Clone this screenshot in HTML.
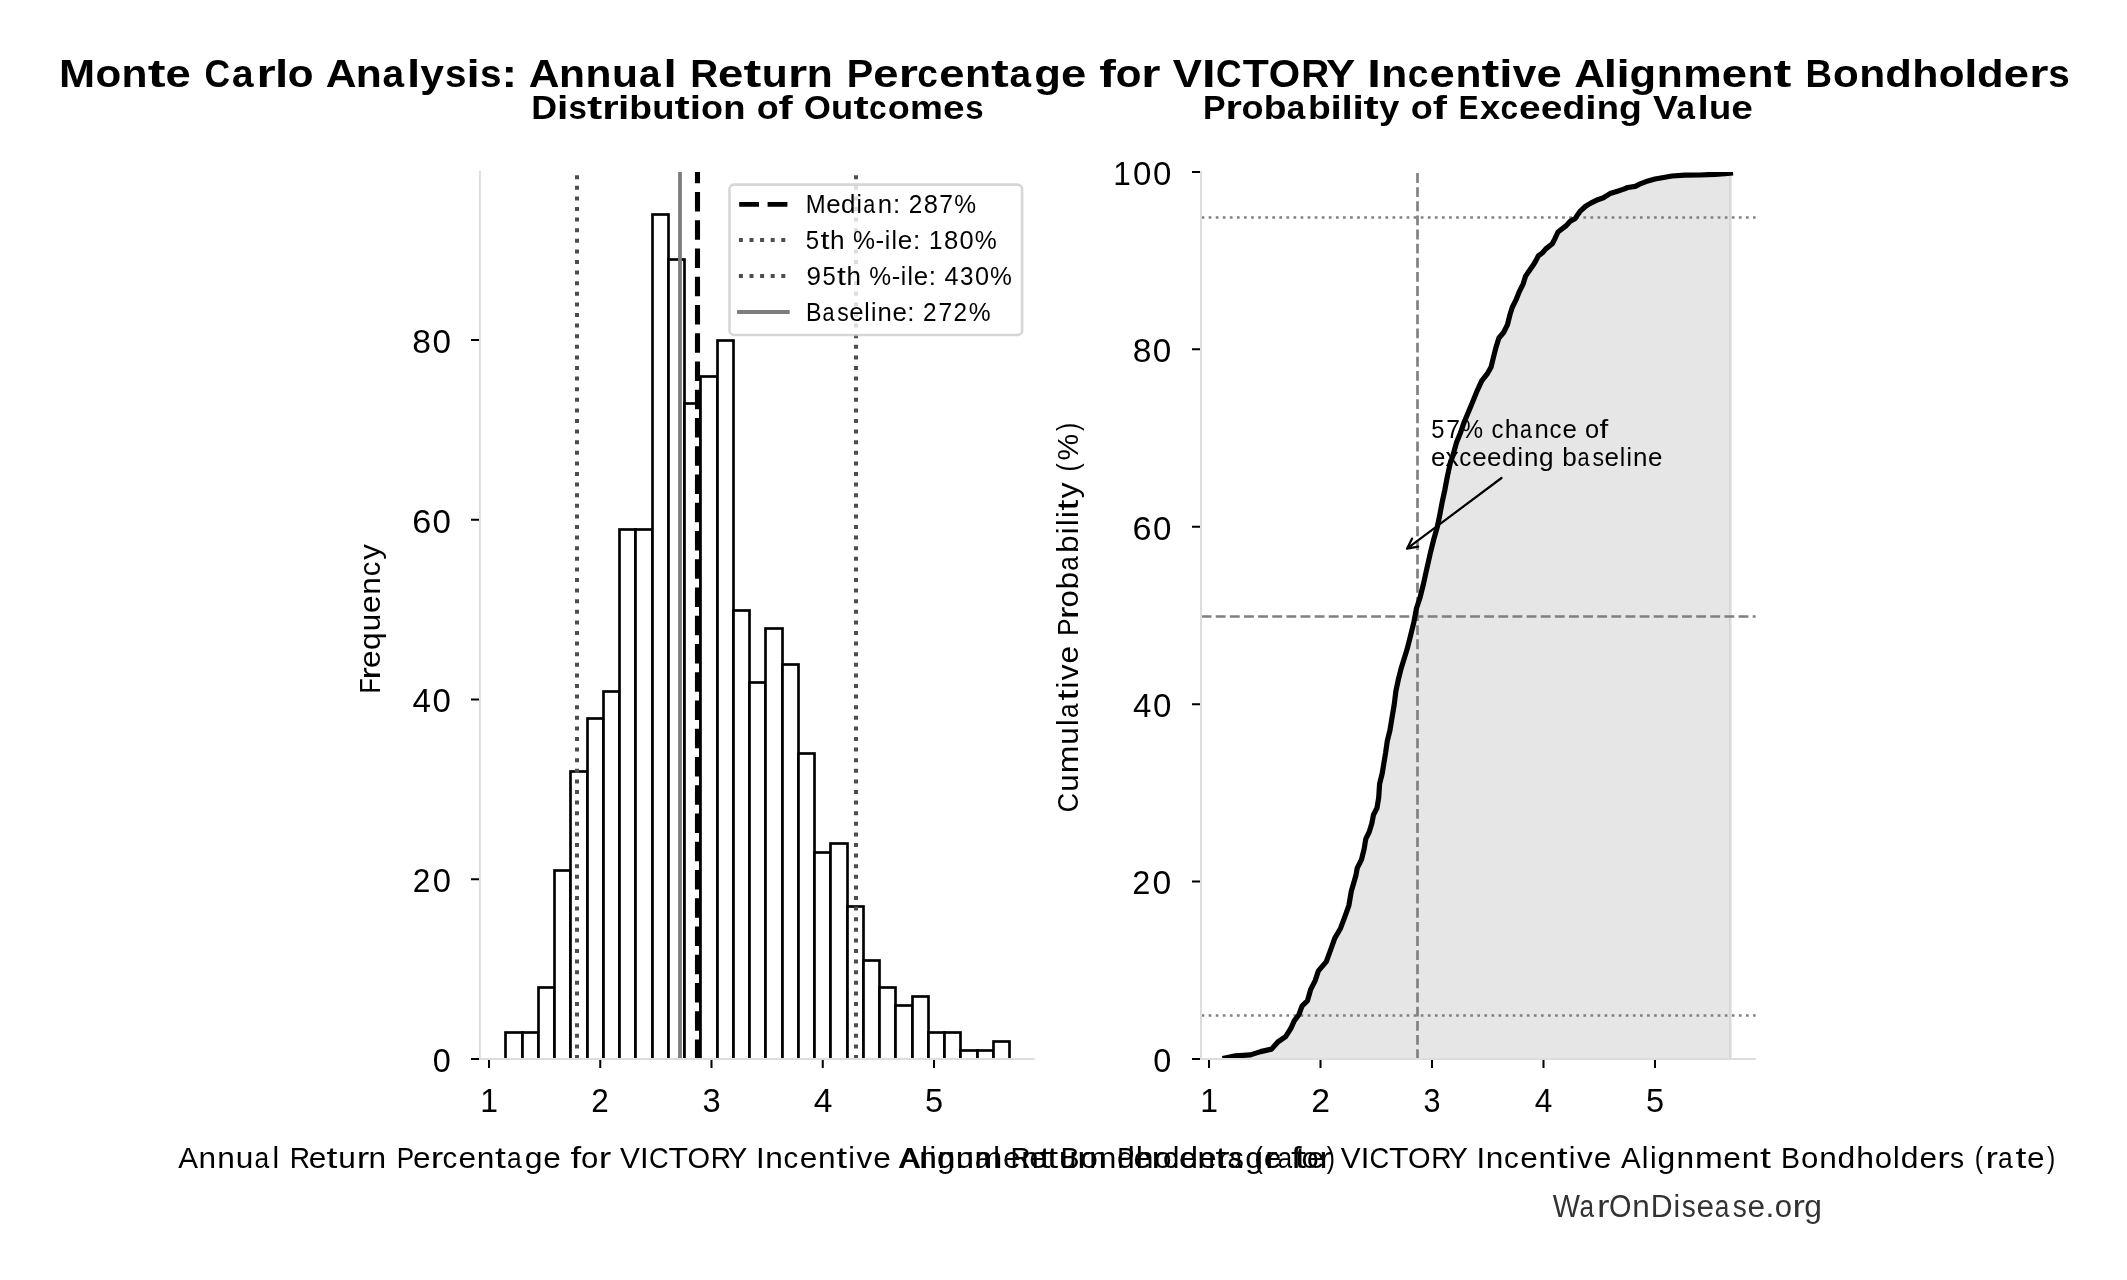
<!DOCTYPE html><html><head><meta charset="utf-8"><title>Monte Carlo Analysis</title><style>html,body{margin:0;padding:0;background:#fff;overflow:hidden}svg{display:block}</style></head><body>
<svg width="2127" height="1280" viewBox="0 0 2127 1280" style="font-family:'Liberation Sans', sans-serif;will-change:transform">
<rect width="2127" height="1280" fill="#fff"/>
<defs><clipPath id="cl"><rect x="479.90" y="171.90" width="554.90" height="887.10"/></clipPath><clipPath id="cr"><rect x="1201.00" y="171.90" width="554.80" height="887.10"/></clipPath></defs>
<g clip-path="url(#cl)">
<g fill="#fff" stroke="#000" stroke-width="2.67"><rect x="505.50" y="1032.50" width="17.00" height="29.50"/><rect x="522.50" y="1032.50" width="16.00" height="29.50"/><rect x="538.50" y="987.50" width="16.00" height="74.50"/><rect x="554.50" y="870.50" width="16.00" height="191.50"/><rect x="570.50" y="771.50" width="17.00" height="290.50"/><rect x="587.50" y="718.50" width="16.00" height="343.50"/><rect x="603.50" y="691.50" width="16.00" height="370.50"/><rect x="619.50" y="529.50" width="16.00" height="532.50"/><rect x="635.50" y="529.50" width="17.00" height="532.50"/><rect x="652.50" y="214.50" width="16.00" height="847.50"/><rect x="668.50" y="259.50" width="16.00" height="802.50"/><rect x="684.50" y="403.50" width="16.00" height="658.50"/><rect x="700.50" y="376.50" width="17.00" height="685.50"/><rect x="717.50" y="340.50" width="16.00" height="721.50"/><rect x="733.50" y="610.50" width="16.00" height="451.50"/><rect x="749.50" y="682.50" width="16.00" height="379.50"/><rect x="765.50" y="628.50" width="17.00" height="433.50"/><rect x="782.50" y="664.50" width="16.00" height="397.50"/><rect x="798.50" y="753.50" width="16.00" height="308.50"/><rect x="814.50" y="852.50" width="16.00" height="209.50"/><rect x="830.50" y="843.50" width="17.00" height="218.50"/><rect x="847.50" y="906.50" width="16.00" height="155.50"/><rect x="863.50" y="960.50" width="16.00" height="101.50"/><rect x="879.50" y="987.50" width="16.00" height="74.50"/><rect x="895.50" y="1005.50" width="17.00" height="56.50"/><rect x="912.50" y="996.50" width="16.00" height="65.50"/><rect x="928.50" y="1032.50" width="16.00" height="29.50"/><rect x="944.50" y="1032.50" width="16.00" height="29.50"/><rect x="960.50" y="1050.50" width="17.00" height="11.50"/><rect x="977.50" y="1050.50" width="16.00" height="11.50"/><rect x="993.50" y="1041.50" width="16.00" height="20.50"/></g>
<path d="M577.00 1059.00V171.90" stroke="#4d4d4d" stroke-width="4.00" fill="none" stroke-linecap="butt" stroke-dasharray="4 6.6"/>
<path d="M856.00 1059.00V171.90" stroke="#4d4d4d" stroke-width="4.00" fill="none" stroke-linecap="butt" stroke-dasharray="4 6.6"/>
<path d="M680.00 1059.00V171.90" stroke="#7d7d7d" stroke-width="3.80" fill="none" stroke-linecap="butt"/>
<path d="M697.50 1059.00V171.90" stroke="#000" stroke-width="5.10" fill="none" stroke-linecap="butt" stroke-dasharray="19.6 8.65"/>
</g>
<path d="M479.90 171.00V1060.00" stroke="#dddddd" stroke-width="2" fill="none"/>
<path d="M478.90 1059.00H1034.80" stroke="#dddddd" stroke-width="2" fill="none"/>
<path d="M471.00 1059.00H479.00M471.00 879.25H479.00M471.00 699.50H479.00M471.00 519.75H479.00M471.00 340.00H479.00M489.00 1060.00V1068.00M600.25 1060.00V1068.00M711.50 1060.00V1068.00M822.75 1060.00V1068.00M934.00 1060.00V1068.00" stroke="#000" stroke-width="2.0" fill="none"/>
<rect x="729.5" y="184.6" width="292.6" height="150.4" rx="4.6" fill="#fff" fill-opacity="0.8" stroke="#cccccc" stroke-opacity="0.8" stroke-width="2.6"/>
<path d="M739.2 204.4H787.8" stroke="#000" stroke-width="4.9" stroke-dasharray="19.8 8.6" fill="none"/>
<path d="M738.9 239.9H787.8" stroke="#4d4d4d" stroke-width="4" stroke-dasharray="4 6.6" fill="none"/>
<path d="M738.9 275.9H787.8" stroke="#4d4d4d" stroke-width="4" stroke-dasharray="4 6.6" fill="none"/>
<path d="M739.0 312.0H787.8" stroke="#7d7d7d" stroke-width="3.8" stroke-linecap="square" fill="none"/>
<g clip-path="url(#cr)">
<polygon points="1225.00,1060.50 1225.00,1058.10 1235.60,1055.90 1250.50,1054.90 1260.60,1051.60 1271.60,1049.10 1277.80,1042.00 1285.60,1036.60 1291.10,1028.00 1294.20,1020.90 1298.90,1014.70 1302.00,1006.10 1307.50,1000.60 1310.60,989.70 1315.30,980.30 1318.40,970.90 1326.30,961.60 1330.90,949.10 1334.80,938.10 1340.30,928.80 1345.00,916.30 1348.90,905.30 1351.30,891.30 1355.90,875.60 1357.20,868.20 1361.50,859.60 1364.10,849.20 1365.80,838.90 1369.20,832.00 1371.80,823.40 1373.50,814.80 1377.00,808.00 1378.70,797.60 1379.60,783.90 1382.20,773.50 1383.90,763.20 1385.60,752.90 1387.30,740.90 1389.90,730.50 1391.60,720.20 1394.20,704.70 1395.90,691.00 1398.50,678.90 1401.10,668.60 1407.00,649.60 1410.50,635.80 1413.90,622.00 1416.50,608.30 1419.90,598.00 1423.40,584.20 1426.80,568.70 1430.30,553.20 1433.70,539.50 1437.20,527.40 1439.70,515.40 1442.30,501.60 1444.90,489.60 1447.50,475.80 1450.50,462.00 1452.80,455.90 1456.70,441.90 1460.60,432.50 1463.80,423.10 1467.70,413.75 1472.30,402.80 1477.00,391.10 1481.70,380.90 1487.20,373.90 1491.10,366.90 1493.40,357.50 1495.80,348.10 1498.90,338.00 1503.60,332.50 1507.50,324.70 1509.80,315.30 1512.20,307.50 1516.10,299.70 1519.20,291.90 1523.20,283.80 1525.60,276.10 1529.80,270.00 1533.10,265.30 1535.90,260.60 1538.30,255.90 1542.50,252.70 1545.80,248.90 1552.30,243.75 1554.70,239.10 1558.00,232.00 1562.20,228.75 1565.90,225.90 1570.20,221.25 1575.30,218.40 1577.70,214.70 1580.00,211.40 1585.60,206.25 1590.30,203.40 1597.80,199.70 1603.40,197.80 1610.00,193.60 1617.50,191.25 1623.10,189.40 1627.80,187.50 1635.30,186.40 1639.50,184.20 1648.00,180.90 1655.00,179.00 1665.00,177.30 1672.00,176.00 1685.00,175.20 1700.00,175.00 1715.00,174.30 1725.00,173.60 1730.50,173.20 1730.50,1060.50" fill="#808080" fill-opacity="0.2" stroke="#808080" stroke-opacity="0.2" stroke-width="2.67" stroke-linejoin="miter"/>
<path d="M1201.60 616.50H1755.80" stroke="#808080" stroke-width="2.67" fill="none" stroke-dasharray="9.86 4.27"/>
<path d="M1417.5 1059.00V171.90" stroke="#808080" stroke-width="2.67" fill="none" stroke-dasharray="9.86 4.27"/>
<path d="M1201.60 1015.50H1755.80" stroke="#808080" stroke-width="2.70" fill="none" stroke-dasharray="2.7 4.37"/>
<path d="M1201.60 217.50H1755.80" stroke="#808080" stroke-width="2.70" fill="none" stroke-dasharray="2.7 4.37"/>
<polyline points="1225.00,1058.10 1235.60,1055.90 1250.50,1054.90 1260.60,1051.60 1271.60,1049.10 1277.80,1042.00 1285.60,1036.60 1291.10,1028.00 1294.20,1020.90 1298.90,1014.70 1302.00,1006.10 1307.50,1000.60 1310.60,989.70 1315.30,980.30 1318.40,970.90 1326.30,961.60 1330.90,949.10 1334.80,938.10 1340.30,928.80 1345.00,916.30 1348.90,905.30 1351.30,891.30 1355.90,875.60 1357.20,868.20 1361.50,859.60 1364.10,849.20 1365.80,838.90 1369.20,832.00 1371.80,823.40 1373.50,814.80 1377.00,808.00 1378.70,797.60 1379.60,783.90 1382.20,773.50 1383.90,763.20 1385.60,752.90 1387.30,740.90 1389.90,730.50 1391.60,720.20 1394.20,704.70 1395.90,691.00 1398.50,678.90 1401.10,668.60 1407.00,649.60 1410.50,635.80 1413.90,622.00 1416.50,608.30 1419.90,598.00 1423.40,584.20 1426.80,568.70 1430.30,553.20 1433.70,539.50 1437.20,527.40 1439.70,515.40 1442.30,501.60 1444.90,489.60 1447.50,475.80 1450.50,462.00 1452.80,455.90 1456.70,441.90 1460.60,432.50 1463.80,423.10 1467.70,413.75 1472.30,402.80 1477.00,391.10 1481.70,380.90 1487.20,373.90 1491.10,366.90 1493.40,357.50 1495.80,348.10 1498.90,338.00 1503.60,332.50 1507.50,324.70 1509.80,315.30 1512.20,307.50 1516.10,299.70 1519.20,291.90 1523.20,283.80 1525.60,276.10 1529.80,270.00 1533.10,265.30 1535.90,260.60 1538.30,255.90 1542.50,252.70 1545.80,248.90 1552.30,243.75 1554.70,239.10 1558.00,232.00 1562.20,228.75 1565.90,225.90 1570.20,221.25 1575.30,218.40 1577.70,214.70 1580.00,211.40 1585.60,206.25 1590.30,203.40 1597.80,199.70 1603.40,197.80 1610.00,193.60 1617.50,191.25 1623.10,189.40 1627.80,187.50 1635.30,186.40 1639.50,184.20 1648.00,180.90 1655.00,179.00 1665.00,177.30 1672.00,176.00 1685.00,175.20 1700.00,175.00 1715.00,174.30 1725.00,173.60 1730.50,173.20" fill="none" stroke="#000" stroke-width="5.2" stroke-linejoin="round" stroke-linecap="square"/>
</g>
<path d="M1201.00 171.00V1060.00" stroke="#dddddd" stroke-width="2" fill="none"/>
<path d="M1200.00 1059.00H1755.80" stroke="#dddddd" stroke-width="2" fill="none"/>
<path d="M1192.00 1059.00H1200.00M1192.00 881.58H1200.00M1192.00 704.16H1200.00M1192.00 526.74H1200.00M1192.00 349.32H1200.00M1192.00 171.90H1200.00M1209.00 1060.00V1068.00M1320.50 1060.00V1068.00M1432.00 1060.00V1068.00M1543.50 1060.00V1068.00M1655.00 1060.00V1068.00" stroke="#000" stroke-width="2.0" fill="none"/>
<path d="M1501.5 478.0L1407.0 548.7M1412.1 538.6L1407.0 548.7L1418.2 546.6" stroke="#000" stroke-width="2.2" fill="none" stroke-linejoin="round" stroke-linecap="round"/>
<g font-size="39.39" font-weight="bold" fill="#000"><text transform="matrix(1.1002 0 0 1 58.90 87.00)">M</text><text transform="matrix(1.0703 0 0 1 95.51 87.00)">o</text><text transform="matrix(1.0799 0 0 1 121.55 87.00)">n</text><text transform="matrix(1.3583 0 0 1 147.66 87.00)">t</text><text transform="matrix(1.1528 0 0 1 165.51 87.00)">e</text><text transform="matrix(0.8997 0 0 1 204.43 87.00)">C</text><text transform="matrix(0.9842 0 0 1 231.92 87.00)">a</text><text transform="matrix(1.2507 0 0 1 256.55 87.00)">r</text><text transform="matrix(1.2085 0 0 1 274.90 87.00)">l</text><text transform="matrix(1.0703 0 0 1 287.85 87.00)">o</text><text transform="matrix(1.0804 0 0 1 325.69 87.00)">A</text><text transform="matrix(1.0799 0 0 1 355.82 87.00)">n</text><text transform="matrix(0.9842 0 0 1 382.55 87.00)">a</text><text transform="matrix(1.2085 0 0 1 407.11 87.00)">l</text><text transform="matrix(1.0859 0 0 1 420.23 87.00)">y</text><text transform="matrix(0.9804 0 0 1 445.04 87.00)">s</text><text transform="matrix(1.2085 0 0 1 466.51 87.00)">i</text><text transform="matrix(0.9804 0 0 1 480.08 87.00)">s</text><text transform="matrix(1.1890 0 0 1 501.42 87.00)">:</text><text transform="matrix(1.0804 0 0 1 528.82 87.00)">A</text><text transform="matrix(1.0799 0 0 1 558.94 87.00)">n</text><text transform="matrix(1.0799 0 0 1 585.54 87.00)">n</text><text transform="matrix(1.0799 0 0 1 612.09 87.00)">u</text><text transform="matrix(0.9842 0 0 1 638.88 87.00)">a</text><text transform="matrix(1.2085 0 0 1 663.43 87.00)">l</text><text transform="matrix(0.9836 0 0 1 690.27 87.00)">R</text><text transform="matrix(1.1528 0 0 1 718.04 87.00)">e</text><text transform="matrix(1.3583 0 0 1 743.39 87.00)">t</text><text transform="matrix(1.0799 0 0 1 761.69 87.00)">u</text><text transform="matrix(1.2507 0 0 1 787.90 87.00)">r</text><text transform="matrix(1.0799 0 0 1 806.77 87.00)">n</text><text transform="matrix(1.0058 0 0 1 846.82 87.00)">P</text><text transform="matrix(1.1528 0 0 1 873.25 87.00)">e</text><text transform="matrix(1.2507 0 0 1 898.65 87.00)">r</text><text transform="matrix(0.9391 0 0 1 917.35 87.00)">c</text><text transform="matrix(1.1528 0 0 1 939.17 87.00)">e</text><text transform="matrix(1.0799 0 0 1 965.01 87.00)">n</text><text transform="matrix(1.3583 0 0 1 991.12 87.00)">t</text><text transform="matrix(0.9842 0 0 1 1009.61 87.00)">a</text><text transform="matrix(1.1069 0 0 1 1034.24 87.00)">g</text><text transform="matrix(1.1528 0 0 1 1060.93 87.00)">e</text><text transform="matrix(1.2676 0 0 1 1099.30 87.00)">f</text><text transform="matrix(1.0703 0 0 1 1115.66 87.00)">o</text><text transform="matrix(1.2507 0 0 1 1141.26 87.00)">r</text><text transform="matrix(1.1095 0 0 1 1172.68 87.00)">V</text><text transform="matrix(1.2379 0 0 1 1201.88 87.00)">I</text><text transform="matrix(0.8997 0 0 1 1216.03 87.00)">C</text><text transform="matrix(1.0823 0 0 1 1242.74 87.00)">T</text><text transform="matrix(1.0239 0 0 1 1268.73 87.00)">O</text><text transform="matrix(0.9836 0 0 1 1301.13 87.00)">R</text><text transform="matrix(1.1130 0 0 1 1325.90 87.00)">Y</text><text transform="matrix(1.2379 0 0 1 1367.25 87.00)">I</text><text transform="matrix(1.0799 0 0 1 1381.31 87.00)">n</text><text transform="matrix(0.9391 0 0 1 1407.74 87.00)">c</text><text transform="matrix(1.1528 0 0 1 1429.56 87.00)">e</text><text transform="matrix(1.0799 0 0 1 1455.40 87.00)">n</text><text transform="matrix(1.3583 0 0 1 1481.51 87.00)">t</text><text transform="matrix(1.2085 0 0 1 1499.34 87.00)">i</text><text transform="matrix(1.0771 0 0 1 1512.73 87.00)">v</text><text transform="matrix(1.1528 0 0 1 1536.52 87.00)">e</text><text transform="matrix(1.0804 0 0 1 1574.16 87.00)">A</text><text transform="matrix(1.2085 0 0 1 1603.77 87.00)">l</text><text transform="matrix(1.2085 0 0 1 1616.58 87.00)">i</text><text transform="matrix(1.1069 0 0 1 1629.46 87.00)">g</text><text transform="matrix(1.0799 0 0 1 1656.65 87.00)">n</text><text transform="matrix(1.0964 0 0 1 1683.17 87.00)">m</text><text transform="matrix(1.1528 0 0 1 1721.68 87.00)">e</text><text transform="matrix(1.0799 0 0 1 1747.52 87.00)">n</text><text transform="matrix(1.3583 0 0 1 1773.62 87.00)">t</text><text transform="matrix(0.9334 0 0 1 1805.62 87.00)">B</text><text transform="matrix(1.0703 0 0 1 1833.09 87.00)">o</text><text transform="matrix(1.0799 0 0 1 1859.13 87.00)">n</text><text transform="matrix(1.1048 0 0 1 1885.29 87.00)">d</text><text transform="matrix(1.0888 0 0 1 1912.29 87.00)">h</text><text transform="matrix(1.0703 0 0 1 1938.70 87.00)">o</text><text transform="matrix(1.2085 0 0 1 1964.23 87.00)">l</text><text transform="matrix(1.1048 0 0 1 1977.11 87.00)">d</text><text transform="matrix(1.1528 0 0 1 2003.80 87.00)">e</text><text transform="matrix(1.2507 0 0 1 2029.20 87.00)">r</text><text transform="matrix(0.9804 0 0 1 2048.31 87.00)">s</text></g>
<g font-size="33.14" font-weight="bold" fill="#000"><text transform="matrix(1.0782 0 0 1 531.21 118.90)">D</text><text transform="matrix(1.2280 0 0 1 557.02 118.90)">i</text><text transform="matrix(0.9962 0 0 1 568.62 118.90)">s</text><text transform="matrix(1.3802 0 0 1 587.01 118.90)">t</text><text transform="matrix(1.2709 0 0 1 602.32 118.90)">r</text><text transform="matrix(1.2280 0 0 1 618.01 118.90)">i</text><text transform="matrix(1.1227 0 0 1 629.35 118.90)">b</text><text transform="matrix(1.0974 0 0 1 652.22 118.90)">u</text><text transform="matrix(1.3802 0 0 1 674.58 118.90)">t</text><text transform="matrix(1.2280 0 0 1 689.83 118.90)">i</text><text transform="matrix(1.0876 0 0 1 700.90 118.90)">o</text><text transform="matrix(1.0974 0 0 1 723.17 118.90)">n</text><text transform="matrix(1.0876 0 0 1 756.71 118.90)">o</text><text transform="matrix(1.2881 0 0 1 778.57 118.90)">f</text><text transform="matrix(1.0404 0 0 1 803.89 118.90)">O</text><text transform="matrix(1.0974 0 0 1 831.10 118.90)">u</text><text transform="matrix(1.3802 0 0 1 853.47 118.90)">t</text><text transform="matrix(0.9542 0 0 1 869.01 118.90)">c</text><text transform="matrix(1.0876 0 0 1 887.77 118.90)">o</text><text transform="matrix(1.1141 0 0 1 909.97 118.90)">m</text><text transform="matrix(1.1715 0 0 1 942.89 118.90)">e</text><text transform="matrix(0.9962 0 0 1 965.19 118.90)">s</text></g>
<g font-size="33.14" font-weight="bold" fill="#000"><text transform="matrix(1.0227 0 0 1 1202.93 118.90)">P</text><text transform="matrix(1.2717 0 0 1 1225.60 118.90)">r</text><text transform="matrix(1.0883 0 0 1 1241.42 118.90)">o</text><text transform="matrix(1.1234 0 0 1 1263.64 118.90)">b</text><text transform="matrix(1.0007 0 0 1 1286.70 118.90)">a</text><text transform="matrix(1.1234 0 0 1 1308.09 118.90)">b</text><text transform="matrix(1.2288 0 0 1 1330.58 118.90)">i</text><text transform="matrix(1.2288 0 0 1 1341.54 118.90)">l</text><text transform="matrix(1.2288 0 0 1 1352.50 118.90)">i</text><text transform="matrix(1.3811 0 0 1 1363.47 118.90)">t</text><text transform="matrix(1.1041 0 0 1 1378.99 118.90)">y</text><text transform="matrix(1.0883 0 0 1 1410.82 118.90)">o</text><text transform="matrix(1.2890 0 0 1 1432.69 118.90)">f</text><text transform="matrix(0.8906 0 0 1 1458.80 118.90)">E</text><text transform="matrix(1.0940 0 0 1 1479.91 118.90)">x</text><text transform="matrix(0.9548 0 0 1 1500.43 118.90)">c</text><text transform="matrix(1.1722 0 0 1 1519.10 118.90)">e</text><text transform="matrix(1.1722 0 0 1 1540.78 118.90)">e</text><text transform="matrix(1.1234 0 0 1 1562.51 118.90)">d</text><text transform="matrix(1.2288 0 0 1 1585.32 118.90)">i</text><text transform="matrix(1.0981 0 0 1 1596.72 118.90)">n</text><text transform="matrix(1.1256 0 0 1 1619.09 118.90)">g</text><text transform="matrix(1.1281 0 0 1 1653.10 118.90)">V</text><text transform="matrix(1.0007 0 0 1 1676.59 118.90)">a</text><text transform="matrix(1.2288 0 0 1 1697.60 118.90)">l</text><text transform="matrix(1.0981 0 0 1 1708.95 118.90)">u</text><text transform="matrix(1.1722 0 0 1 1731.32 118.90)">e</text></g>
<g font-size="25.87" font-weight="normal" fill="#000"><text transform="matrix(0.9220 0 0 1 805.84 213.20)">M</text><text transform="matrix(0.9987 0 0 1 826.31 213.20)">e</text><text transform="matrix(1.0050 0 0 1 841.04 213.20)">d</text><text transform="matrix(0.9452 0 0 1 856.61 213.20)">i</text><text transform="matrix(0.8315 0 0 1 863.17 213.20)">a</text><text transform="matrix(0.9969 0 0 1 877.76 213.20)">n</text><text transform="matrix(1.0005 0 0 1 892.90 213.20)">:</text><text transform="matrix(0.9395 0 0 1 908.66 213.20)">2</text><text transform="matrix(0.9853 0 0 1 923.86 213.20)">8</text><text transform="matrix(0.9535 0 0 1 939.27 213.20)">7</text><text transform="matrix(0.9495 0 0 1 954.23 213.20)">%</text></g>
<g font-size="25.87" font-weight="normal" fill="#000"><text transform="matrix(0.9266 0 0 1 805.84 248.60)">5</text><text transform="matrix(1.2448 0 0 1 820.43 248.60)">t</text><text transform="matrix(1.0112 0 0 1 830.10 248.60)">h</text><text transform="matrix(0.9564 0 0 1 853.10 248.60)">%</text><text transform="matrix(1.0040 0 0 1 875.57 248.60)">-</text><text transform="matrix(0.9521 0 0 1 884.87 248.60)">i</text><text transform="matrix(0.9521 0 0 1 891.55 248.60)">l</text><text transform="matrix(1.0060 0 0 1 897.86 248.60)">e</text><text transform="matrix(1.0078 0 0 1 912.90 248.60)">:</text><text transform="matrix(0.9377 0 0 1 929.04 248.60)">1</text><text transform="matrix(0.9925 0 0 1 944.09 248.60)">8</text><text transform="matrix(0.9818 0 0 1 959.50 248.60)">0</text><text transform="matrix(0.9564 0 0 1 974.68 248.60)">%</text></g>
<g font-size="25.87" font-weight="normal" fill="#000"><text transform="matrix(1.0068 0 0 1 806.58 284.60)">9</text><text transform="matrix(0.9199 0 0 1 822.41 284.60)">5</text><text transform="matrix(1.2359 0 0 1 836.89 284.60)">t</text><text transform="matrix(1.0039 0 0 1 846.49 284.60)">h</text><text transform="matrix(0.9495 0 0 1 869.33 284.60)">%</text><text transform="matrix(0.9968 0 0 1 891.64 284.60)">-</text><text transform="matrix(0.9452 0 0 1 900.87 284.60)">i</text><text transform="matrix(0.9452 0 0 1 907.50 284.60)">l</text><text transform="matrix(0.9988 0 0 1 913.76 284.60)">e</text><text transform="matrix(1.0006 0 0 1 928.70 284.60)">:</text><text transform="matrix(0.9749 0 0 1 944.51 284.60)">4</text><text transform="matrix(0.9361 0 0 1 960.05 284.60)">3</text><text transform="matrix(0.9748 0 0 1 974.96 284.60)">0</text><text transform="matrix(0.9495 0 0 1 990.03 284.60)">%</text></g>
<g font-size="25.87" font-weight="normal" fill="#000"><text transform="matrix(0.8983 0 0 1 805.89 320.70)">B</text><text transform="matrix(0.8314 0 0 1 822.39 320.70)">a</text><text transform="matrix(0.8863 0 0 1 837.18 320.70)">s</text><text transform="matrix(0.9987 0 0 1 849.21 320.70)">e</text><text transform="matrix(0.9451 0 0 1 864.31 320.70)">l</text><text transform="matrix(0.9451 0 0 1 870.97 320.70)">i</text><text transform="matrix(0.9968 0 0 1 877.45 320.70)">n</text><text transform="matrix(0.9987 0 0 1 892.38 320.70)">e</text><text transform="matrix(1.0004 0 0 1 907.31 320.70)">:</text><text transform="matrix(0.9394 0 0 1 923.06 320.70)">2</text><text transform="matrix(0.9534 0 0 1 938.45 320.70)">7</text><text transform="matrix(0.9394 0 0 1 953.50 320.70)">2</text><text transform="matrix(0.9494 0 0 1 968.63 320.70)">%</text></g>
<g font-size="25.87" font-weight="normal" fill="#000"><text transform="matrix(0.9196 0 0 1 1431.25 437.90)">5</text><text transform="matrix(0.9532 0 0 1 1446.27 437.90)">7</text><text transform="matrix(0.9492 0 0 1 1461.23 437.90)">%</text><text transform="matrix(0.9275 0 0 1 1491.41 437.90)">c</text><text transform="matrix(1.0035 0 0 1 1504.63 437.90)">h</text><text transform="matrix(0.8312 0 0 1 1519.94 437.90)">a</text><text transform="matrix(0.9966 0 0 1 1534.53 437.90)">n</text><text transform="matrix(0.9275 0 0 1 1549.53 437.90)">c</text><text transform="matrix(0.9984 0 0 1 1562.60 437.90)">e</text><text transform="matrix(0.9827 0 0 1 1584.95 437.90)">o</text><text transform="matrix(1.2138 0 0 1 1599.43 437.90)">f</text></g>
<g font-size="25.87" font-weight="normal" fill="#000"><text transform="matrix(1.0039 0 0 1 1430.90 465.90)">e</text><text transform="matrix(1.0311 0 0 1 1445.44 465.90)">x</text><text transform="matrix(0.9326 0 0 1 1459.15 465.90)">c</text><text transform="matrix(1.0039 0 0 1 1472.30 465.90)">e</text><text transform="matrix(1.0039 0 0 1 1487.09 465.90)">e</text><text transform="matrix(1.0102 0 0 1 1501.89 465.90)">d</text><text transform="matrix(0.9501 0 0 1 1517.55 465.90)">i</text><text transform="matrix(1.0021 0 0 1 1524.07 465.90)">n</text><text transform="matrix(1.0102 0 0 1 1539.08 465.90)">g</text><text transform="matrix(1.0112 0 0 1 1562.26 465.90)">b</text><text transform="matrix(0.8358 0 0 1 1577.55 465.90)">a</text><text transform="matrix(0.8910 0 0 1 1592.42 465.90)">s</text><text transform="matrix(1.0039 0 0 1 1604.51 465.90)">e</text><text transform="matrix(0.9501 0 0 1 1619.69 465.90)">l</text><text transform="matrix(0.9501 0 0 1 1626.38 465.90)">i</text><text transform="matrix(1.0021 0 0 1 1632.91 465.90)">n</text><text transform="matrix(1.0039 0 0 1 1647.91 465.90)">e</text></g>
<g font-size="30.38" font-weight="normal" fill="#000"><text transform="matrix(0.9730 0 0 1 178.14 1167.90)">A</text><text transform="matrix(1.0413 0 0 1 198.61 1167.90)">n</text><text transform="matrix(1.0413 0 0 1 217.20 1167.90)">n</text><text transform="matrix(1.0413 0 0 1 235.67 1167.90)">u</text><text transform="matrix(0.8685 0 0 1 254.47 1167.90)">a</text><text transform="matrix(0.9873 0 0 1 272.55 1167.90)">l</text><text transform="matrix(0.9237 0 0 1 289.86 1167.90)">R</text><text transform="matrix(1.0432 0 0 1 308.63 1167.90)">e</text><text transform="matrix(1.2909 0 0 1 326.60 1167.90)">t</text><text transform="matrix(1.0413 0 0 1 338.35 1167.90)">u</text><text transform="matrix(1.2375 0 0 1 356.67 1167.90)">r</text><text transform="matrix(1.0413 0 0 1 368.62 1167.90)">n</text><text transform="matrix(0.8542 0 0 1 396.73 1167.90)">P</text><text transform="matrix(1.0432 0 0 1 412.89 1167.90)">e</text><text transform="matrix(1.2375 0 0 1 430.84 1167.90)">r</text><text transform="matrix(0.9691 0 0 1 442.46 1167.90)">c</text><text transform="matrix(1.0432 0 0 1 458.49 1167.90)">e</text><text transform="matrix(1.0413 0 0 1 476.84 1167.90)">n</text><text transform="matrix(1.2909 0 0 1 495.06 1167.90)">t</text><text transform="matrix(0.8685 0 0 1 507.01 1167.90)">a</text><text transform="matrix(1.0497 0 0 1 524.63 1167.90)">g</text><text transform="matrix(1.0432 0 0 1 543.25 1167.90)">e</text><text transform="matrix(1.2682 0 0 1 570.48 1167.90)">f</text><text transform="matrix(1.0268 0 0 1 580.99 1167.90)">o</text><text transform="matrix(1.2375 0 0 1 598.80 1167.90)">r</text><text transform="matrix(0.9802 0 0 1 620.12 1167.90)">V</text><text transform="matrix(1.0215 0 0 1 640.11 1167.90)">I</text><text transform="matrix(0.8966 0 0 1 649.01 1167.90)">C</text><text transform="matrix(1.0534 0 0 1 668.43 1167.90)">T</text><text transform="matrix(0.9548 0 0 1 687.43 1167.90)">O</text><text transform="matrix(0.9237 0 0 1 710.83 1167.90)">R</text><text transform="matrix(0.9530 0 0 1 728.07 1167.90)">Y</text><text transform="matrix(1.0215 0 0 1 756.02 1167.90)">I</text><text transform="matrix(1.0413 0 0 1 765.22 1167.90)">n</text><text transform="matrix(0.9691 0 0 1 783.62 1167.90)">c</text><text transform="matrix(1.0432 0 0 1 799.66 1167.90)">e</text><text transform="matrix(1.0413 0 0 1 818.00 1167.90)">n</text><text transform="matrix(1.2909 0 0 1 836.23 1167.90)">t</text><text transform="matrix(0.9873 0 0 1 848.30 1167.90)">i</text><text transform="matrix(1.0423 0 0 1 856.46 1167.90)">v</text><text transform="matrix(1.0432 0 0 1 873.33 1167.90)">e</text><text transform="matrix(0.9730 0 0 1 900.60 1167.90)">A</text><text transform="matrix(0.9873 0 0 1 921.25 1167.90)">l</text><text transform="matrix(0.9873 0 0 1 929.41 1167.90)">i</text><text transform="matrix(1.0497 0 0 1 937.08 1167.90)">g</text><text transform="matrix(1.0413 0 0 1 955.99 1167.90)">n</text><text transform="matrix(1.1005 0 0 1 974.47 1167.90)">m</text><text transform="matrix(1.0432 0 0 1 1002.88 1167.90)">e</text><text transform="matrix(1.0413 0 0 1 1021.22 1167.90)">n</text><text transform="matrix(1.2909 0 0 1 1039.45 1167.90)">t</text><text transform="matrix(0.9384 0 0 1 1060.62 1167.90)">B</text><text transform="matrix(1.0268 0 0 1 1080.52 1167.90)">o</text><text transform="matrix(1.0413 0 0 1 1098.73 1167.90)">n</text><text transform="matrix(1.0497 0 0 1 1117.04 1167.90)">d</text><text transform="matrix(1.0486 0 0 1 1135.84 1167.90)">h</text><text transform="matrix(1.0268 0 0 1 1154.29 1167.90)">o</text><text transform="matrix(0.9873 0 0 1 1172.67 1167.90)">l</text><text transform="matrix(1.0497 0 0 1 1180.36 1167.90)">d</text><text transform="matrix(1.0432 0 0 1 1198.98 1167.90)">e</text><text transform="matrix(1.2375 0 0 1 1216.92 1167.90)">r</text><text transform="matrix(0.9258 0 0 1 1229.63 1167.90)">s</text><text transform="matrix(0.8164 0 0 1 1254.41 1167.90)">(</text><text transform="matrix(1.2375 0 0 1 1265.05 1167.90)">r</text><text transform="matrix(0.8685 0 0 1 1277.58 1167.90)">a</text><text transform="matrix(1.2909 0 0 1 1295.11 1167.90)">t</text><text transform="matrix(1.0432 0 0 1 1306.70 1167.90)">e</text><text transform="matrix(0.8164 0 0 1 1326.68 1167.90)">)</text></g>
<g font-size="30.38" font-weight="normal" fill="#000"><text transform="matrix(0.9728 0 0 1 898.74 1167.90)">A</text><text transform="matrix(1.0412 0 0 1 919.20 1167.90)">n</text><text transform="matrix(1.0412 0 0 1 937.79 1167.90)">n</text><text transform="matrix(1.0412 0 0 1 956.26 1167.90)">u</text><text transform="matrix(0.8684 0 0 1 975.06 1167.90)">a</text><text transform="matrix(0.9871 0 0 1 993.14 1167.90)">l</text><text transform="matrix(0.9236 0 0 1 1010.44 1167.90)">R</text><text transform="matrix(1.0430 0 0 1 1029.21 1167.90)">e</text><text transform="matrix(1.2906 0 0 1 1047.18 1167.90)">t</text><text transform="matrix(1.0412 0 0 1 1058.92 1167.90)">u</text><text transform="matrix(1.2373 0 0 1 1077.24 1167.90)">r</text><text transform="matrix(1.0412 0 0 1 1089.18 1167.90)">n</text><text transform="matrix(0.8540 0 0 1 1117.29 1167.90)">P</text><text transform="matrix(1.0430 0 0 1 1133.45 1167.90)">e</text><text transform="matrix(1.2373 0 0 1 1151.40 1167.90)">r</text><text transform="matrix(0.9690 0 0 1 1163.01 1167.90)">c</text><text transform="matrix(1.0430 0 0 1 1179.05 1167.90)">e</text><text transform="matrix(1.0412 0 0 1 1197.39 1167.90)">n</text><text transform="matrix(1.2906 0 0 1 1215.61 1167.90)">t</text><text transform="matrix(0.8684 0 0 1 1227.56 1167.90)">a</text><text transform="matrix(1.0496 0 0 1 1245.17 1167.90)">g</text><text transform="matrix(1.0430 0 0 1 1263.79 1167.90)">e</text><text transform="matrix(1.2680 0 0 1 1291.01 1167.90)">f</text><text transform="matrix(1.0266 0 0 1 1301.52 1167.90)">o</text><text transform="matrix(1.2373 0 0 1 1319.33 1167.90)">r</text><text transform="matrix(0.9800 0 0 1 1340.64 1167.90)">V</text><text transform="matrix(1.0213 0 0 1 1360.63 1167.90)">I</text><text transform="matrix(0.8964 0 0 1 1369.53 1167.90)">C</text><text transform="matrix(1.0532 0 0 1 1388.94 1167.90)">T</text><text transform="matrix(0.9546 0 0 1 1407.94 1167.90)">O</text><text transform="matrix(0.9236 0 0 1 1431.34 1167.90)">R</text><text transform="matrix(0.9528 0 0 1 1448.57 1167.90)">Y</text><text transform="matrix(1.0213 0 0 1 1476.52 1167.90)">I</text><text transform="matrix(1.0412 0 0 1 1485.72 1167.90)">n</text><text transform="matrix(0.9690 0 0 1 1504.12 1167.90)">c</text><text transform="matrix(1.0430 0 0 1 1520.15 1167.90)">e</text><text transform="matrix(1.0412 0 0 1 1538.49 1167.90)">n</text><text transform="matrix(1.2906 0 0 1 1556.71 1167.90)">t</text><text transform="matrix(0.9871 0 0 1 1568.78 1167.90)">i</text><text transform="matrix(1.0422 0 0 1 1576.94 1167.90)">v</text><text transform="matrix(1.0430 0 0 1 1593.81 1167.90)">e</text><text transform="matrix(0.9728 0 0 1 1621.08 1167.90)">A</text><text transform="matrix(0.9871 0 0 1 1641.72 1167.90)">l</text><text transform="matrix(0.9871 0 0 1 1649.88 1167.90)">i</text><text transform="matrix(1.0496 0 0 1 1657.55 1167.90)">g</text><text transform="matrix(1.0412 0 0 1 1676.46 1167.90)">n</text><text transform="matrix(1.1003 0 0 1 1694.93 1167.90)">m</text><text transform="matrix(1.0430 0 0 1 1723.34 1167.90)">e</text><text transform="matrix(1.0412 0 0 1 1741.67 1167.90)">n</text><text transform="matrix(1.2906 0 0 1 1759.90 1167.90)">t</text><text transform="matrix(0.9382 0 0 1 1781.07 1167.90)">B</text><text transform="matrix(1.0266 0 0 1 1800.96 1167.90)">o</text><text transform="matrix(1.0412 0 0 1 1819.17 1167.90)">n</text><text transform="matrix(1.0496 0 0 1 1837.47 1167.90)">d</text><text transform="matrix(1.0484 0 0 1 1856.27 1167.90)">h</text><text transform="matrix(1.0266 0 0 1 1874.72 1167.90)">o</text><text transform="matrix(0.9871 0 0 1 1893.10 1167.90)">l</text><text transform="matrix(1.0496 0 0 1 1900.79 1167.90)">d</text><text transform="matrix(1.0430 0 0 1 1919.40 1167.90)">e</text><text transform="matrix(1.2373 0 0 1 1937.34 1167.90)">r</text><text transform="matrix(0.9257 0 0 1 1950.04 1167.90)">s</text><text transform="matrix(0.8163 0 0 1 1974.83 1167.90)">(</text><text transform="matrix(1.2373 0 0 1 1985.46 1167.90)">r</text><text transform="matrix(0.8684 0 0 1 1997.99 1167.90)">a</text><text transform="matrix(1.2906 0 0 1 2015.52 1167.90)">t</text><text transform="matrix(1.0430 0 0 1 2027.10 1167.90)">e</text><text transform="matrix(0.8163 0 0 1 2047.08 1167.90)">)</text></g>
<g font-size="30.67" font-weight="normal" fill="#333333"><text transform="matrix(0.9394 0 0 1 1552.67 1217.00)">W</text><text transform="matrix(0.8569 0 0 1 1579.49 1217.00)">a</text><text transform="matrix(1.2209 0 0 1 1596.93 1217.00)">r</text><text transform="matrix(0.9420 0 0 1 1609.05 1217.00)">O</text><text transform="matrix(1.0273 0 0 1 1632.34 1217.00)">n</text><text transform="matrix(0.9859 0 0 1 1650.69 1217.00)">D</text><text transform="matrix(0.9740 0 0 1 1673.56 1217.00)">i</text><text transform="matrix(0.9134 0 0 1 1681.72 1217.00)">s</text><text transform="matrix(1.0292 0 0 1 1696.42 1217.00)">e</text><text transform="matrix(0.8569 0 0 1 1714.76 1217.00)">a</text><text transform="matrix(0.9134 0 0 1 1732.84 1217.00)">s</text><text transform="matrix(1.0292 0 0 1 1747.53 1217.00)">e</text><text transform="matrix(1.0310 0 0 1 1765.47 1217.00)">.</text><text transform="matrix(1.0130 0 0 1 1774.83 1217.00)">o</text><text transform="matrix(1.2209 0 0 1 1792.57 1217.00)">r</text><text transform="matrix(1.0356 0 0 1 1804.18 1217.00)">g</text></g>
<g transform="translate(380.00 691.60) rotate(-90)" font-size="29.94" font-weight="normal" fill="#000"><text transform="matrix(0.8364 0 0 1 -1.85 0.00)">F</text><text transform="matrix(1.2503 0 0 1 12.18 0.00)">r</text><text transform="matrix(1.0540 0 0 1 23.65 0.00)">e</text><text transform="matrix(1.0594 0 0 1 41.64 0.00)">q</text><text transform="matrix(1.0521 0 0 1 60.34 0.00)">u</text><text transform="matrix(1.0540 0 0 1 78.69 0.00)">e</text><text transform="matrix(1.0521 0 0 1 96.96 0.00)">n</text><text transform="matrix(0.9791 0 0 1 115.28 0.00)">c</text><text transform="matrix(1.0479 0 0 1 131.77 0.00)">y</text></g>
<g transform="translate(1077.80 811.25) rotate(-90)" font-size="30.38" font-weight="normal" fill="#000"><text transform="matrix(0.8938 0 0 1 -1.13 0.00)">C</text><text transform="matrix(1.0381 0 0 1 19.47 0.00)">u</text><text transform="matrix(1.0970 0 0 1 38.01 0.00)">m</text><text transform="matrix(1.0381 0 0 1 66.50 0.00)">u</text><text transform="matrix(0.9842 0 0 1 85.34 0.00)">l</text><text transform="matrix(0.8658 0 0 1 93.36 0.00)">a</text><text transform="matrix(1.2868 0 0 1 110.84 0.00)">t</text><text transform="matrix(0.9842 0 0 1 122.87 0.00)">i</text><text transform="matrix(1.0391 0 0 1 131.00 0.00)">v</text><text transform="matrix(1.0400 0 0 1 147.82 0.00)">e</text><text transform="matrix(0.8515 0 0 1 175.59 0.00)">P</text><text transform="matrix(1.2336 0 0 1 192.13 0.00)">r</text><text transform="matrix(1.0236 0 0 1 203.65 0.00)">o</text><text transform="matrix(1.0475 0 0 1 221.85 0.00)">b</text><text transform="matrix(0.8658 0 0 1 240.45 0.00)">a</text><text transform="matrix(1.0475 0 0 1 258.34 0.00)">b</text><text transform="matrix(0.9842 0 0 1 277.05 0.00)">i</text><text transform="matrix(0.9842 0 0 1 285.16 0.00)">l</text><text transform="matrix(0.9842 0 0 1 293.31 0.00)">i</text><text transform="matrix(1.2868 0 0 1 300.87 0.00)">t</text><text transform="matrix(1.0340 0 0 1 312.94 0.00)">y</text><text transform="matrix(0.8139 0 0 1 339.73 0.00)">(</text><text transform="matrix(0.9887 0 0 1 350.70 0.00)">%</text><text transform="matrix(0.8139 0 0 1 380.15 0.00)">)</text></g>
<g font-size="33.17" font-weight="normal" fill="#000"><text transform="matrix(0.9614 0 0 1 480.20 1111.90)">1</text></g>
<g font-size="33.17" font-weight="normal" fill="#000"><text transform="matrix(0.9614 0 0 1 1200.20 1111.90)">1</text></g>
<g font-size="33.17" font-weight="normal" fill="#000"><text transform="matrix(0.9500 0 0 1 591.24 1111.90)">2</text></g>
<g font-size="33.17" font-weight="normal" fill="#000"><text transform="matrix(1.0162 0 0 1 1311.13 1111.90)">2</text></g>
<g font-size="33.17" font-weight="normal" fill="#000"><text transform="matrix(0.9853 0 0 1 702.51 1111.90)">3</text></g>
<g font-size="33.17" font-weight="normal" fill="#000"><text transform="matrix(0.9217 0 0 1 1423.59 1111.90)">3</text></g>
<g font-size="33.17" font-weight="normal" fill="#000"><text transform="matrix(1.0120 0 0 1 813.77 1111.90)">4</text></g>
<g font-size="33.17" font-weight="normal" fill="#000"><text transform="matrix(0.9521 0 0 1 1534.82 1111.90)">4</text></g>
<g font-size="33.17" font-weight="normal" fill="#000"><text transform="matrix(0.9828 0 0 1 924.97 1111.90)">5</text></g>
<g font-size="33.17" font-weight="normal" fill="#000"><text transform="matrix(0.9828 0 0 1 1645.97 1111.90)">5</text></g>
<g font-size="33.17" font-weight="normal" fill="#000"><text transform="matrix(0.9770 0 0 1 432.85 1071.90)">0</text></g>
<g font-size="33.17" font-weight="normal" fill="#000"><text transform="matrix(0.9527 0 0 1 412.78 892.15)">2</text><text transform="matrix(0.9884 0 0 1 432.65 892.15)">0</text></g>
<g font-size="33.17" font-weight="normal" fill="#000"><text transform="matrix(0.9967 0 0 1 412.56 712.40)">4</text><text transform="matrix(0.9966 0 0 1 432.51 712.40)">0</text></g>
<g font-size="33.17" font-weight="normal" fill="#000"><text transform="matrix(1.0323 0 0 1 412.21 532.65)">6</text><text transform="matrix(0.9974 0 0 1 432.49 532.65)">0</text></g>
<g font-size="33.17" font-weight="normal" fill="#000"><text transform="matrix(1.0134 0 0 1 412.24 352.90)">8</text><text transform="matrix(1.0025 0 0 1 432.41 352.90)">0</text></g>
<g font-size="33.17" font-weight="normal" fill="#000"><text transform="matrix(0.9770 0 0 1 1153.25 1071.90)">0</text></g>
<g font-size="33.17" font-weight="normal" fill="#000"><text transform="matrix(0.9798 0 0 1 1132.14 894.48)">2</text><text transform="matrix(1.0165 0 0 1 1152.57 894.48)">0</text></g>
<g font-size="33.17" font-weight="normal" fill="#000"><text transform="matrix(0.9967 0 0 1 1132.96 717.06)">4</text><text transform="matrix(0.9966 0 0 1 1152.91 717.06)">0</text></g>
<g font-size="33.17" font-weight="normal" fill="#000"><text transform="matrix(1.0323 0 0 1 1132.61 539.64)">6</text><text transform="matrix(0.9974 0 0 1 1152.89 539.64)">0</text></g>
<g font-size="33.17" font-weight="normal" fill="#000"><text transform="matrix(1.0134 0 0 1 1132.64 362.22)">8</text><text transform="matrix(1.0025 0 0 1 1152.81 362.22)">0</text></g>
<g font-size="33.17" font-weight="normal" fill="#000"><text transform="matrix(0.9515 0 0 1 1113.30 184.80)">1</text><text transform="matrix(0.9962 0 0 1 1132.97 184.80)">0</text><text transform="matrix(0.9962 0 0 1 1152.92 184.80)">0</text></g>
</svg></body></html>
